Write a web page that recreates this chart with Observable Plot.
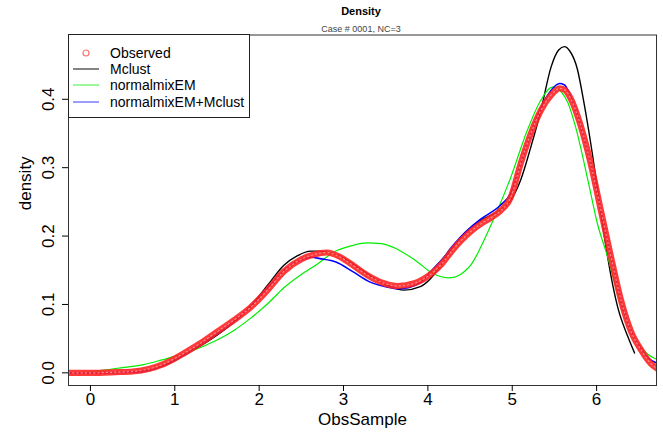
<!DOCTYPE html>
<html><head><meta charset="utf-8">
<script src="https://cdn.jsdelivr.net/npm/d3@7"></script>
<script src="https://cdn.jsdelivr.net/npm/@observablehq/plot@0.6"></script>
<style>
body{margin:0;background:#fff;font-family:"Liberation Sans",Arial,Helvetica,sans-serif;}
#wrap{position:relative;width:663px;height:434px;overflow:hidden;}
#head{position:absolute;left:0;top:0;width:663px;height:33px;}
#title{position:absolute;left:261px;width:200px;top:4px;line-height:14px;font-size:11px;font-weight:bold;text-align:center;color:#000;}
#subtitle{position:absolute;left:261px;width:200px;top:23px;line-height:12px;font-size:9px;text-align:center;color:#444;}
#chart{position:absolute;left:0;top:33px;}
#legend{position:absolute;left:68px;top:34px;width:182px;height:84px;box-sizing:border-box;border:1px solid #222;background:#fff;}
.row{position:absolute;left:0;width:180px;height:16px;line-height:16px;font-size:14px;}
.row span.t{position:absolute;left:41px;top:0;white-space:nowrap;color:#000;}
.row svg{position:absolute;left:3px;top:0;}
</style>
</head><body>
<div id="wrap">
  <div id="head"><div id="title">Density</div><div id="subtitle">Case # 0001, NC=3</div></div>
  <div id="chart"></div>
  <div id="legend"></div>
</div>
<script>
// ---- data ----
const xTicks = [0, 1, 2, 3, 4, 5, 6];
const yTicks = [0, 0.1, 0.2, 0.3, 0.4];
const seriesNames = ["Observed", "Mclust", "normalmixEM", "normalmixEM+Mclust"];
const seriesColors = ["#ff2424", "#000000", "#00ee00", "#0000ff"];

const xObs = [-0.26, 0, 0.3, 0.5, 0.7, 0.85, 1.0, 1.1, 1.3, 1.5, 1.7, 1.9, 2.1, 2.29, 2.5, 2.65, 2.8, 2.95, 3.08, 3.28, 3.48, 3.64, 3.84, 4.07, 4.17, 4.27, 4.39, 4.51, 4.63, 4.75, 4.86, 4.98, 5.10, 5.22, 5.34, 5.46, 5.56, 5.62, 5.69, 5.81, 5.93, 6.05, 6.17, 6.29, 6.41, 6.53, 6.64, 6.72];
const yObs = [0, 0, 0.001, 0.002, 0.006, 0.012, 0.021, 0.028, 0.043, 0.060, 0.077, 0.096, 0.121, 0.148, 0.166, 0.173, 0.176, 0.170, 0.160, 0.143, 0.131, 0.127, 0.131, 0.148, 0.160, 0.176, 0.193, 0.207, 0.218, 0.227, 0.237, 0.256, 0.306, 0.350, 0.384, 0.406, 0.416, 0.414, 0.402, 0.362, 0.306, 0.238, 0.170, 0.106, 0.060, 0.033, 0.014, 0.006];

const xMclust = [-0.26, 0, 0.5, 0.7, 1.0, 1.1, 1.3, 1.5, 1.7, 1.9, 2.1, 2.29, 2.45, 2.61, 2.7, 2.85, 2.97, 3.1, 3.28, 3.52, 3.72, 3.91, 4.07, 4.17, 4.27, 4.39, 4.51, 4.63, 4.86, 4.98, 5.10, 5.22, 5.34, 5.46, 5.55, 5.62, 5.68, 5.77, 5.85, 5.95, 6.05, 6.13, 6.25, 6.37, 6.45];
const yMclust = [0, 0, 0.001, 0.004, 0.018, 0.025, 0.039, 0.055, 0.074, 0.098, 0.128, 0.157, 0.171, 0.178, 0.178, 0.175, 0.170, 0.160, 0.145, 0.128, 0.121, 0.126, 0.143, 0.160, 0.180, 0.198, 0.212, 0.223, 0.238, 0.252, 0.282, 0.330, 0.384, 0.447, 0.472, 0.477, 0.471, 0.445, 0.395, 0.320, 0.235, 0.170, 0.096, 0.053, 0.029];

const xEM = [-0.26, 0, 0.16, 0.4, 0.63, 0.85, 1.0, 1.2, 1.5, 1.7, 1.9, 2.1, 2.29, 2.49, 2.7, 2.89, 3.1, 3.28, 3.45, 3.6, 3.76, 3.9, 4.0, 4.12, 4.24, 4.32, 4.39, 4.45, 4.51, 4.57, 4.65, 4.78, 4.98, 5.18, 5.34, 5.48, 5.58, 5.66, 5.75, 5.90, 6.01, 6.13, 6.25, 6.37, 6.49, 6.60, 6.72];
const yEM = [0, 0.001, 0.004, 0.008, 0.012, 0.019, 0.024, 0.032, 0.048, 0.062, 0.080, 0.101, 0.124, 0.143, 0.160, 0.177, 0.186, 0.190, 0.189, 0.183, 0.172, 0.160, 0.150, 0.142, 0.139, 0.140, 0.144, 0.150, 0.158, 0.170, 0.190, 0.225, 0.285, 0.355, 0.399, 0.418, 0.411, 0.395, 0.360, 0.280, 0.218, 0.170, 0.116, 0.072, 0.043, 0.028, 0.019];

const xBoth = [-0.26, 0, 0.5, 0.7, 1.0, 1.3, 1.5, 1.7, 1.9, 2.1, 2.3, 2.49, 2.62, 2.72, 2.91, 3.11, 3.31, 3.5, 3.66, 3.9, 4.07, 4.17, 4.27, 4.39, 4.51, 4.63, 4.86, 4.98, 5.10, 5.22, 5.34, 5.46, 5.56, 5.62, 5.69, 5.81, 5.93, 6.05, 6.17, 6.29, 6.41, 6.53, 6.64, 6.72];
const yBoth = [0, 0, 0.001, 0.004, 0.019, 0.041, 0.057, 0.075, 0.097, 0.124, 0.150, 0.165, 0.169, 0.167, 0.162, 0.148, 0.133, 0.126, 0.123, 0.131, 0.153, 0.166, 0.182, 0.199, 0.213, 0.225, 0.245, 0.262, 0.305, 0.350, 0.388, 0.413, 0.423, 0.421, 0.405, 0.362, 0.306, 0.238, 0.170, 0.106, 0.060, 0.034, 0.019, 0.014];

// ---- tables ----
const toRows = (xs, ys) => xs.map((x, i) => ({x, y: ys[i]}));
const obs = toRows(xObs, yObs);
const mclust = toRows(xMclust, yMclust);
const em = toRows(xEM, yEM);
const both = toRows(xBoth, yBoth);

const font = '"Liberation Sans", Arial, Helvetica, sans-serif';
const lineOpts = {x: "x", y: "y", curve: "monotone-x", clip: true};

const chart = Plot.plot({
  width: 663,
  height: 401,
  marginTop: 1.5,
  marginBottom: 49,
  marginLeft: 68,
  marginRight: 7,
  style: {fontFamily: font, fontSize: "17px", color: "#000", background: "#fff"},
  x: {domain: [-0.26, 6.71], label: null},
  y: {domain: [-0.0185, 0.494], label: null},
  marks: [
    Plot.line(mclust, {...lineOpts, stroke: seriesColors[1], strokeWidth: 1.4}),
    Plot.line(em, {...lineOpts, stroke: seriesColors[2], strokeWidth: 1.2}),
    Plot.line(both, {...lineOpts, stroke: seriesColors[3], strokeWidth: 1.6}),
    Plot.line(obs, {...lineOpts, stroke: seriesColors[0], strokeWidth: 6.2, strokeOpacity: 0.9}),
    Plot.line(obs, {...lineOpts, stroke: "#ff8c8c", strokeWidth: 1.2, strokeDasharray: "1.2 3"}),
    Plot.frame({stroke: "#333"}),
    Plot.axisX({ticks: xTicks, tickSize: 6, tickPadding: 1, tickFormat: d => String(d), fontSize: 17, label: null}),
    Plot.axisY({ticks: yTicks, tickSize: 6, tickPadding: 9, tickRotate: -90, tickFormat: d => d.toFixed(1), fontSize: 17, label: null}),
    Plot.text(["ObsSample"], {frameAnchor: "bottom", dy: 39, fontSize: 17}),
    Plot.text(["density"], {frameAnchor: "left", dx: -43, rotate: -90, fontSize: 17})
  ]
});
document.getElementById("chart").appendChild(chart);

// ---- legend ----
const legend = document.getElementById("legend");
const rowTops = [9.5, 25.5, 41.5, 58.5];
seriesNames.forEach((name, i) => {
  const row = document.createElement("div");
  row.className = "row";
  row.style.top = rowTops[i] + "px";
  const sw = i === 0
    ? `<svg width="28" height="16"><circle cx="14" cy="8" r="3" fill="none" stroke="#ff7070" stroke-width="1.2"/></svg>`
    : `<svg width="28" height="16"><line x1="1" x2="27" y1="8" y2="8" stroke="${seriesColors[i]}" stroke-opacity="${i === 1 ? 0.75 : 0.6}" stroke-width="1.3"/></svg>`;
  row.innerHTML = sw + `<span class="t">${name}</span>`;
  legend.appendChild(row);
});
</script>
</body></html>
